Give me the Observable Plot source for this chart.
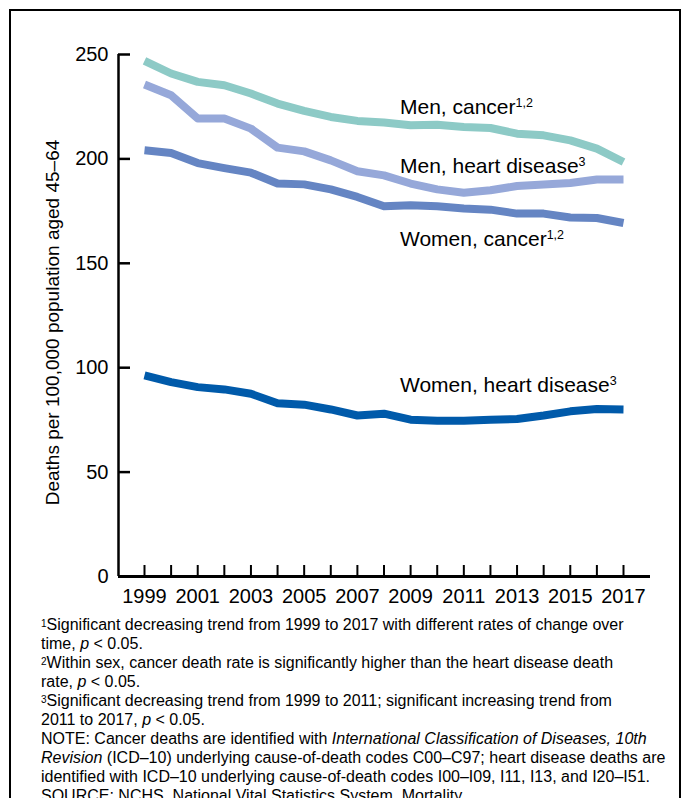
<!DOCTYPE html>
<html>
<head>
<meta charset="utf-8">
<script src="https://cdn.jsdelivr.net/npm/d3@7"></script>
<script src="https://cdn.jsdelivr.net/npm/@observablehq/plot@0.6"></script>
<style>
  html, body { margin: 0; padding: 0; background: #fff; }
  #page { position: relative; width: 685px; height: 798px; overflow: hidden; font-family: "Liberation Sans", Arial, sans-serif; color: #000; }
  #frame { position: absolute; left: 9px; top: 9px; width: 668px; height: 900px; border: 2px solid #000; box-sizing: content-box; }
  #chart { position: absolute; left: 0; top: 0; }
  #notes { position: absolute; left: 41px; top: 615px; font-size: 16px; line-height: 19px; white-space: nowrap; }
  #notes sup { font-size: 10px; vertical-align: top; position: relative; top: -1px; }
</style>
</head>
<body>
<div id="page">
  <div id="frame"></div>
  <div id="chart"></div>
  <div id="notes">
    <div><sup>1</sup>Significant decreasing trend from 1999 to 2017 with different rates of change over</div>
    <div>time, <i>p</i> &lt; 0.05.</div>
    <div><sup>2</sup>Within sex, cancer death rate is significantly higher than the heart disease death</div>
    <div>rate, <i>p</i> &lt; 0.05.</div>
    <div><sup>3</sup>Significant decreasing trend from 1999 to 2011; significant increasing trend from</div>
    <div>2011 to 2017, <i>p</i> &lt; 0.05.</div>
    <div>NOTE: Cancer deaths are identified with <i>International Classification of Diseases, 10th</i></div>
    <div><i>Revision</i> (ICD–10) underlying cause-of-death codes C00–C97; heart disease deaths are</div>
    <div>identified with ICD–10 underlying cause-of-death codes I00–I09, I11, I13, and I20–I51.</div>
    <div>SOURCE: NCHS, National Vital Statistics System, Mortality.</div>
  </div>
</div>
<script>
// ---- data ----
const years = [1999, 2000, 2001, 2002, 2003, 2004, 2005, 2006, 2007, 2008, 2009, 2010, 2011, 2012, 2013, 2014, 2015, 2016, 2017];
const xLabelYears = [1999, 2001, 2003, 2005, 2007, 2009, 2011, 2013, 2015, 2017];
const yTicks = [0, 50, 100, 150, 200, 250];

const menCancer   = [246.9, 240.9, 236.9, 235.3, 231.3, 226.5, 223.0, 220.1, 218.2, 217.4, 216.1, 216.4, 215.3, 214.8, 212.1, 211.3, 208.9, 204.9, 198.5];
const menHeart    = [235.6, 230.5, 219.3, 219.3, 214.5, 205.4, 203.6, 199.3, 194.1, 192.1, 188.2, 185.4, 183.8, 185.0, 187.0, 187.7, 188.5, 190.1, 190.1];
const womenCancer = [204.1, 202.8, 198.0, 195.6, 193.4, 188.2, 187.8, 185.4, 181.8, 177.3, 177.8, 177.3, 176.2, 175.7, 173.8, 173.8, 171.9, 171.7, 169.3];
const womenHeart  = [96.3, 93.1, 90.7, 89.6, 87.5, 83.0, 82.3, 80.0, 77.1, 78.0, 75.1, 74.6, 74.6, 75.1, 75.4, 77.1, 79.1, 80.2, 80.0];

const seriesNames = ["Men, cancer", "Men, heart disease", "Women, cancer", "Women, heart disease"];
const seriesSup = ["1,2", "3", "1,2", "3"];
const seriesColors = ["#8dcac6", "#96a8d9", "#6585c3", "#005aaa"];
const yLabel = "Deaths per 100,000 population aged 45–64";

// label anchors (data space)
const labelYear = [2008.6, 2008.6, 2008.6, 2008.6];
const labelValue = [224.7, 196.7, 161.5, 91.6];

// ---- build tables ----
const seriesValues = [menCancer, menHeart, womenCancer, womenHeart];
const rows = [];
seriesNames.forEach((name, s) => years.forEach((yr, i) => rows.push({series: name, year: yr, value: seriesValues[s][i]})));
const labels = seriesNames.map((name, i) => ({text: name, sup: seriesSup[i], year: labelYear[i], value: labelValue[i]}));

const INSET_L = 26, INSET_R = 27;
const FONT = "Liberation Sans, Arial, sans-serif";

const plot = Plot.plot({
  width: 685,
  height: 615,
  marginLeft: 118,
  marginRight: 35,
  marginTop: 54,
  marginBottom: 39,
  insetLeft: INSET_L,
  insetRight: INSET_R,
  style: {fontFamily: FONT, fontSize: "20px", color: "#000", background: "transparent", overflow: "visible"},
  x: {domain: [1999, 2017], label: null},
  y: {domain: [0, 250], label: null},
  color: {domain: seriesNames, range: seriesColors},
  marks: [
    Plot.line(rows, {x: "year", y: "value", z: "series", stroke: "series", strokeWidth: 8, strokeLinejoin: "round", strokeLinecap: "butt"}),
    // axis lines
    Plot.ruleY([0], {stroke: "#000", strokeWidth: 3}),
    Plot.ruleX([years[0]], {y1: yTicks[0], y2: yTicks[yTicks.length - 1], dx: -INSET_L, stroke: "#000", strokeWidth: 2.5}),
    // y axis: inward ticks + labels
    Plot.axisY(yTicks, {tickSize: -12, tickPadding: 22, strokeWidth: 2.5, fontSize: 20, label: null}),
    // x axis: inward ticks every year, labels every 2 years
    Plot.axisX(years, {tickSize: -11, tickFormat: () => "", strokeWidth: 2, label: null}),
    Plot.axisX(xLabelYears, {tickSize: 0, tickPadding: 12, tickFormat: d => String(d), fontSize: 20, label: null}),
    // y title
    Plot.text([yLabel], {frameAnchor: "left", textAnchor: "middle", rotate: -90, dx: -66, dy: 7, fontSize: 19, fill: "#000"}),
    // series labels
    Plot.text(labels, {x: "year", y: "value", text: "text", textAnchor: "start", fontSize: 21, fill: "#000"})
  ]
});

document.getElementById("chart").appendChild(plot);

// superscripts on series labels
d3.select(plot).selectAll("text").each(function() {
  const t = this.textContent;
  const i = seriesNames.indexOf(t);
  if (i >= 0) {
    d3.select(this).append("tspan").attr("dy", "-0.55em").attr("font-size", 12.5).text(labels[i].sup);
  }
});
</script>
</body>
</html>
